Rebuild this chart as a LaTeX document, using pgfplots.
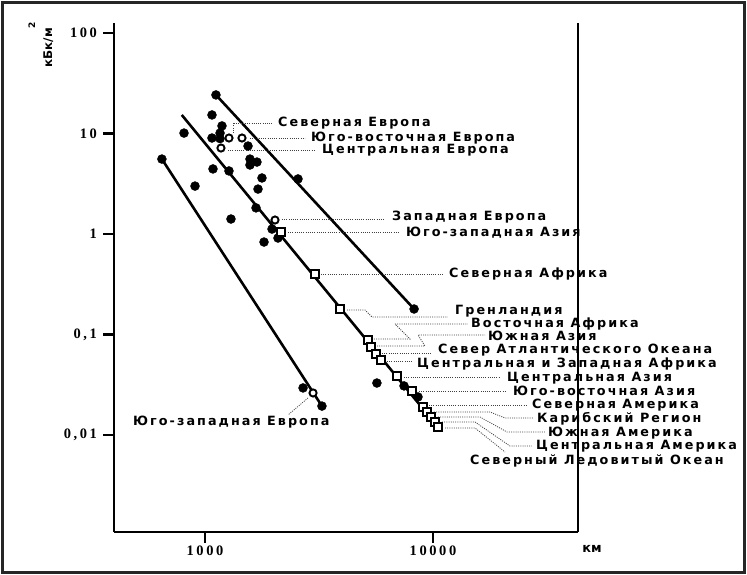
\documentclass[border=0pt]{standalone}
\usepackage{pgfplots}
\pgfplotsset{compat=1.18}
\usepackage{fontspec}
\setmainfont{DejaVu Sans}
\newfontfamily\lab{DejaVu Sans Bold}[LetterSpace=16]
\newfontfamily\axl{DejaVu Sans Bold}
\newfontfamily\tickf{Liberation Serif Bold}[LetterSpace=18]
\tikzset{lbl/.style={anchor=west, inner sep=0pt, text height=9bp, text depth=0pt, font=\lab\fontsize{12.8}{15}\selectfont}}
\pgfplotsset{lead/.style={black!75, line width=0.8bp, dash pattern=on 1bp off 1.2bp, no marks}}
\begin{document}
\begin{tikzpicture}
\useasboundingbox (0,0) rectangle (747bp,-575bp);
\draw[line width=2.5bp, black!85] (2.5bp,-2.5bp) rectangle (744.5bp,-572.5bp);
\begin{axis}[
  at={(114bp,-532bp)}, anchor=south west,
  scale only axis, width=464bp, height=509bp,
  xmode=log, ymode=log,
  xmin=399, xmax=43260, ymin=0.001083, ymax=125.8,
  axis x line*=bottom, axis y line*=left,
  x axis line style={line width=2.3bp},
  y axis line style={line width=2.7bp},
  xtick={1000,10000}, xticklabels={1000,10000},
  ytick={0.01,0.1,1,10,100}, yticklabels={{0,01},{0,1},1,10,100},
  xminorticks=false, yminorticks=false,
  tick align=outside, major tick length=11bp,
  tick style={line width=2.3bp, black},
  yticklabel style={font=\tickf\fontsize{14.5}{15}\selectfont, anchor=east, inner sep=0pt, xshift=-6bp},
  xticklabel style={font=\tickf\fontsize{14.5}{15}\selectfont, anchor=north, inner sep=0pt, yshift=-3bp},
  clip=false,
]
% right frame line
\draw[line width=1.3bp] (rel axis cs:1,0) -- (rel axis cs:1,1);
% regression lines
\addplot[line width=2.6bp, no marks] coordinates {(1117,24.2) (8260,0.1794)};
\addplot[line width=2.6bp, no marks] coordinates {(791,15.3) (10520,0.0120)};
\addplot[line width=2.6bp, no marks] coordinates {(647,5.57) (3258,0.0194)};
% leader lines
\addplot[lead] coordinates {(1327,10.12) (1327,12.72) (1967,12.72)};
\addplot[lead] coordinates {(1575,9.02) (2745,9.02)};
\addplot[lead] coordinates {(1261,6.85) (3007,6.85)};
\addplot[lead] coordinates {(2176,1.410) (6160,1.410)};
\addplot[lead] coordinates {(2312,1.047) (7166,1.047)};
\addplot[lead] coordinates {(3228,0.3999) (11064,0.3999)};
\addplot[lead] coordinates {(4196,0.1753) (5033,0.1753) (5402,0.1493) (11636,0.1493)};
\addplot[lead] coordinates {(5511,0.0902) (7927,0.0902) (6813,0.1272) (14240,0.1272)};
\addplot[lead] coordinates {(5681,0.07686) (9224,0.07686) (8597,0.09886) (16910,0.09886)};
\addplot[lead] coordinates {(5975,0.06545) (9899,0.06545)};
\addplot[lead] coordinates {(6284,0.0545) (8089,0.0545)};
\addplot[lead] coordinates {(7460,0.03777) (19670,0.03777)};
\addplot[lead] coordinates {(8684,0.0274) (21120,0.0274)};
\addplot[lead] coordinates {(9605,0.01989) (25840,0.01989)};
\addplot[lead] coordinates {(10100,0.01694) (17780,0.01694) (20700,0.01476) (27450,0.01476)};
\addplot[lead] coordinates {(10517,0.0151) (16075,0.0151) (21120,0.01071) (30990,0.01071)};
\addplot[lead] coordinates {(10950,0.01347) (15285,0.01347) (21760,0.00777) (27180,0.00777)};
\addplot[lead] coordinates {(11290,0.01174) (15285,0.01174) (20700,0.006773)};
\addplot[lead] coordinates {(2829,0.02335) (2312,0.01581)};
% filled dots
\addplot[only marks, mark=*, mark size=4.5bp, black] coordinates {
(1117,24.2) (1073,15.3) (1187,11.9) (809,10.1) (1164,10.1) (1073,9.02) (1164,8.9)
(1544,7.51) (1575,5.57) (1690,5.2) (1575,4.86) (1084,4.44) (1274,4.24) (1778,3.61)
(2558,3.53) (904,3.0) (1708,2.8) (1674,1.82) (1300,1.41) (1968,1.12) (1815,0.832)
(2090,0.912) (647,5.57) (8260,0.1794) (5675,0.0329) (7464,0.0308) (8595,0.0239)
(2692,0.0294) (3258,0.0194)};
% open circles
\addplot[only marks, mark=*, mark size=3.6bp, mark options={fill=white, draw=black, line width=1.9bp}] coordinates {
(1274,9.02) (1453,9.02) (1175,7.17) (2028,1.378) (2978,0.0262)};
% open squares
\addplot[only marks, mark=square*, mark size=3.8bp, mark options={fill=white, draw=black, line width=1.9bp}] coordinates {
(2153,1.047) (3035,0.400) (3909,0.179) (5188,0.0882) (5346,0.0751) (5623,0.0640)
(5916,0.0557) (6953,0.0386) (8086,0.0274) (9036,0.0190) (9412,0.0169) (9800,0.0151)
(10200,0.01346) (10520,0.01201)};
% labels
\node[lbl] at (axis cs:2090,13.01) {Северная Европа};
\node[lbl] at (axis cs:2917,9.23) {Юго-восточная Европа};
\node[lbl] at (axis cs:3261,7.01) {Центральная Европа};
\node[lbl] at (axis cs:6610,1.510) {Западная Европа};
\node[lbl] at (axis cs:7610,1.047) {Юго-западная Азия};
\node[lbl] at (axis cs:11750,0.4091) {Северная Африка};
\node[lbl] at (axis cs:12490,0.1753) {Гренландия};
\node[lbl] at (axis cs:14680,0.1302) {Восточная Африка};
\node[lbl] at (axis cs:17420,0.09663) {Южная Азия};
\node[lbl] at (axis cs:10517,0.07173) {Север Атлантического Океана};
\node[lbl] at (axis cs:8508,0.05204) {Центральная и Западная Африка};
\node[lbl] at (axis cs:21120,0.03777) {Центральная Азия};
\node[lbl] at (axis cs:22430,0.02740) {Юго-восточная Азия};
\node[lbl] at (axis cs:27180,0.02035) {Северная Америка};
\node[lbl] at (axis cs:28580,0.01476) {Карибский Регион};
\node[lbl] at (axis cs:31950,0.01071) {Южная Америка};
\node[lbl] at (axis cs:28300,0.007953) {Центральная Америка};
\node[lbl] at (axis cs:14530,0.005638) {Северный Ледовитый Океан};
\node[lbl] at (axis cs:483.4,0.01378) {Юго-западная Европа};
% axis titles
\node[font=\axl\fontsize{13}{14}\selectfont, inner sep=0pt] at (axis cs:49830,0.000734) {км};
\node[rotate=90, anchor=base, inner sep=0pt, font=\axl\fontsize{12}{14}\selectfont] at (axis cs:213.3,75.9) {кБк/м\hspace{-1bp}\raisebox{17bp}{\fontsize{9}{10}\selectfont 2}};
\end{axis}
\end{tikzpicture}
\end{document}
